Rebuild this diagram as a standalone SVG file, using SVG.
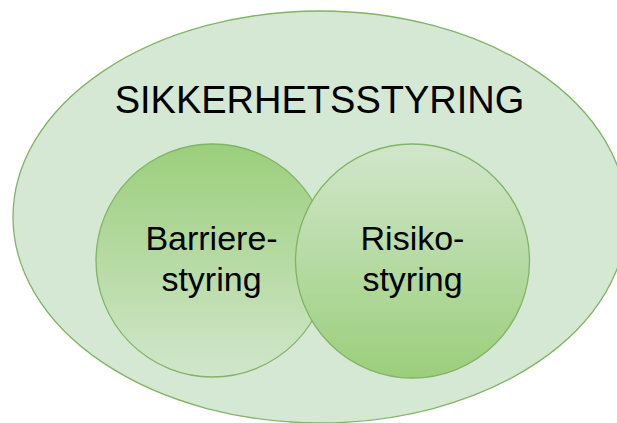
<svg xmlns="http://www.w3.org/2000/svg" width="617" height="423" viewBox="0 0 617 423">
  <defs>
    <linearGradient id="gDown" x1="0" y1="0" x2="0" y2="1">
      <stop offset="0" stop-color="#9bcf7b"/>
      <stop offset="1" stop-color="#d1e6cb"/>
    </linearGradient>
    <linearGradient id="gUp" x1="0" y1="0" x2="0" y2="1">
      <stop offset="0" stop-color="#d1e6cb"/>
      <stop offset="1" stop-color="#9bcf7b"/>
    </linearGradient>
  </defs>
  <style>
    .shape { stroke: #82b366; stroke-width: 1.3; }
    .lbl { font-family: "Liberation Sans", Arial, sans-serif; fill: #000; text-anchor: middle; }
  </style>
  <g id="sikkerhetsstyring">
    <ellipse class="shape" cx="320" cy="217" rx="307" ry="206" fill="#d5e8d4"/>
    <text class="lbl" x="319.5" y="113" font-size="38">SIKKERHETSSTYRING</text>
  </g>
  <g id="barrierestyring">
    <circle class="shape" cx="212.5" cy="260.5" r="116.5" fill="url(#gDown)"/>
    <text class="lbl" x="211.5" y="250" font-size="34">Barriere-</text>
    <text class="lbl" x="211.5" y="291" font-size="34">styring</text>
  </g>
  <g id="risikostyring">
    <circle class="shape" cx="412.5" cy="261" r="117" fill="url(#gUp)"/>
    <text class="lbl" x="412.5" y="250" font-size="34">Risiko-</text>
    <text class="lbl" x="412.5" y="291" font-size="34">styring</text>
  </g>
  <g id="connectors"/>
</svg>
